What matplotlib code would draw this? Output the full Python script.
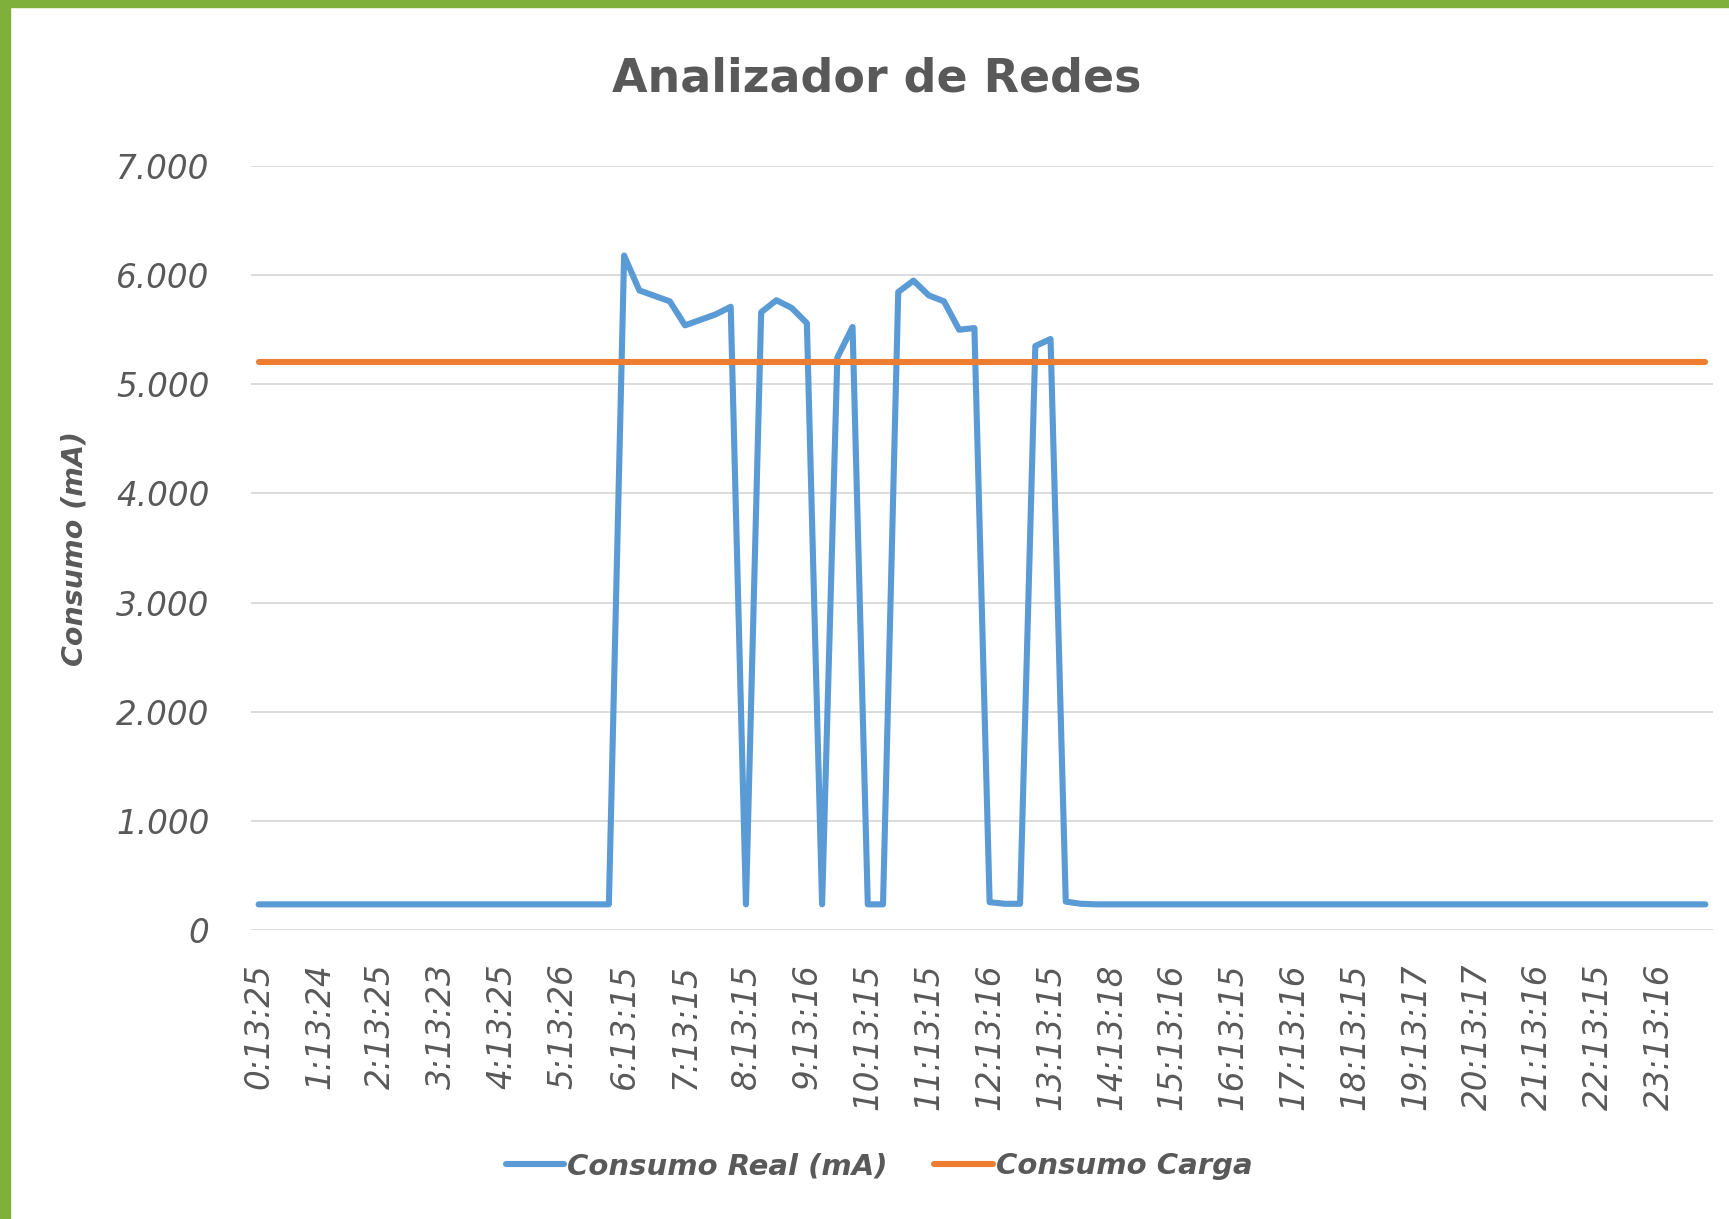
import matplotlib
matplotlib.use("Agg")
import matplotlib.pyplot as plt
from matplotlib.patches import Rectangle
from matplotlib.ticker import FuncFormatter

# hourly labels (every 4th sample is labelled)
hour_labels = ["0:13:25", "1:13:24", "2:13:25", "3:13:23", "4:13:25", "5:13:26",
               "6:13:15", "7:13:15", "8:13:15", "9:13:16", "10:13:15", "11:13:15",
               "12:13:16", "13:13:15", "14:13:18", "15:13:16", "16:13:15", "17:13:16",
               "18:13:15", "19:13:17", "20:13:17", "21:13:16", "22:13:15", "23:13:16"]

# consumo real (mA), one sample every 15 min
consumo_real = ([235] * 24 +
                [6180, 5860, 5810, 5760, 5540, 5590, 5640, 5710,
                 235, 5660, 5770, 5700, 5560, 235, 5245, 5525,
                 235, 235, 5845, 5950, 5815, 5760, 5500, 5515,
                 255, 240, 240, 5350, 5415, 260, 240] +
                [235] * 41)
consumo_carga = [5200] * len(consumo_real)

blue = "#5B9BD5"
orange = "#ED7D31"
grey_txt = "#595959"
fnt = "DejaVu Sans"

fig = plt.figure(figsize=(17.29, 12.19), dpi=100)
fig.patches.append(Rectangle((0, 0), 10 / 1729, 1, transform=fig.transFigure,
                             color="#80B03C", zorder=0))
fig.patches.append(Rectangle((0, 1 - 7 / 1219), 1, 7 / 1219, transform=fig.transFigure,
                             color="#80B03C", zorder=0))

ax = fig.add_axes([251 / 1729, 1 - 930 / 1219, (1713 - 251) / 1729, (930 - 166) / 1219])
x = list(range(len(consumo_real)))
ax.plot(x, consumo_real, color=blue, lw=4.4, solid_capstyle="round",
        solid_joinstyle="round", label="Consumo Real (mA)", zorder=3)
ax.plot(x, consumo_carga, color=orange, lw=4.4, solid_capstyle="round",
        label="Consumo Carga", zorder=3)

ax.set_xlim(-0.5, len(x) - 0.5)
ax.set_ylim(0, 7000)
ax.set_yticks(range(0, 7001, 1000))
ax.yaxis.set_major_formatter(FuncFormatter(lambda v, p: f"{int(v):,}".replace(",", ".")))
ax.set_xticks(range(0, len(x), 4))
ax.set_xticklabels(hour_labels, rotation=90)
ax.grid(axis="y", color="#D9D9D9", lw=1.3, zorder=0)
for s in ax.spines.values():
    s.set_visible(False)
ax.tick_params(axis="both", length=0, colors=grey_txt)
ax.tick_params(axis="x", pad=24)
ax.tick_params(axis="y", pad=30)
for lab in ax.get_xticklabels() + ax.get_yticklabels():
    lab.set_fontfamily(fnt)
    lab.set_fontstyle("italic")
    lab.set_fontsize(23.5)
    lab.set_color(grey_txt)

fig.text(877 / 1729, 1 - 79 / 1219, "Analizador de Redes", ha="center", va="center",
         fontsize=33, fontweight="bold", color=grey_txt, family=fnt)
fig.text(74 / 1729, 1 - 548 / 1219, "Consumo (mA)", ha="center", va="center",
         rotation=90, fontsize=20.5, fontweight="bold", color=grey_txt, family=fnt,
         style="italic")

leg = fig.legend(loc="center", bbox_to_anchor=(879 / 1729, 1 - 1166 / 1219), ncol=2,
                 frameon=False, handlelength=2.0, handletextpad=0.1, columnspacing=1.6,
                 prop={"family": fnt, "size": 21, "weight": "bold", "style": "italic"})
for t in leg.get_texts():
    t.set_color(grey_txt)

fig.savefig("out.png", dpi=100, facecolor="white")
